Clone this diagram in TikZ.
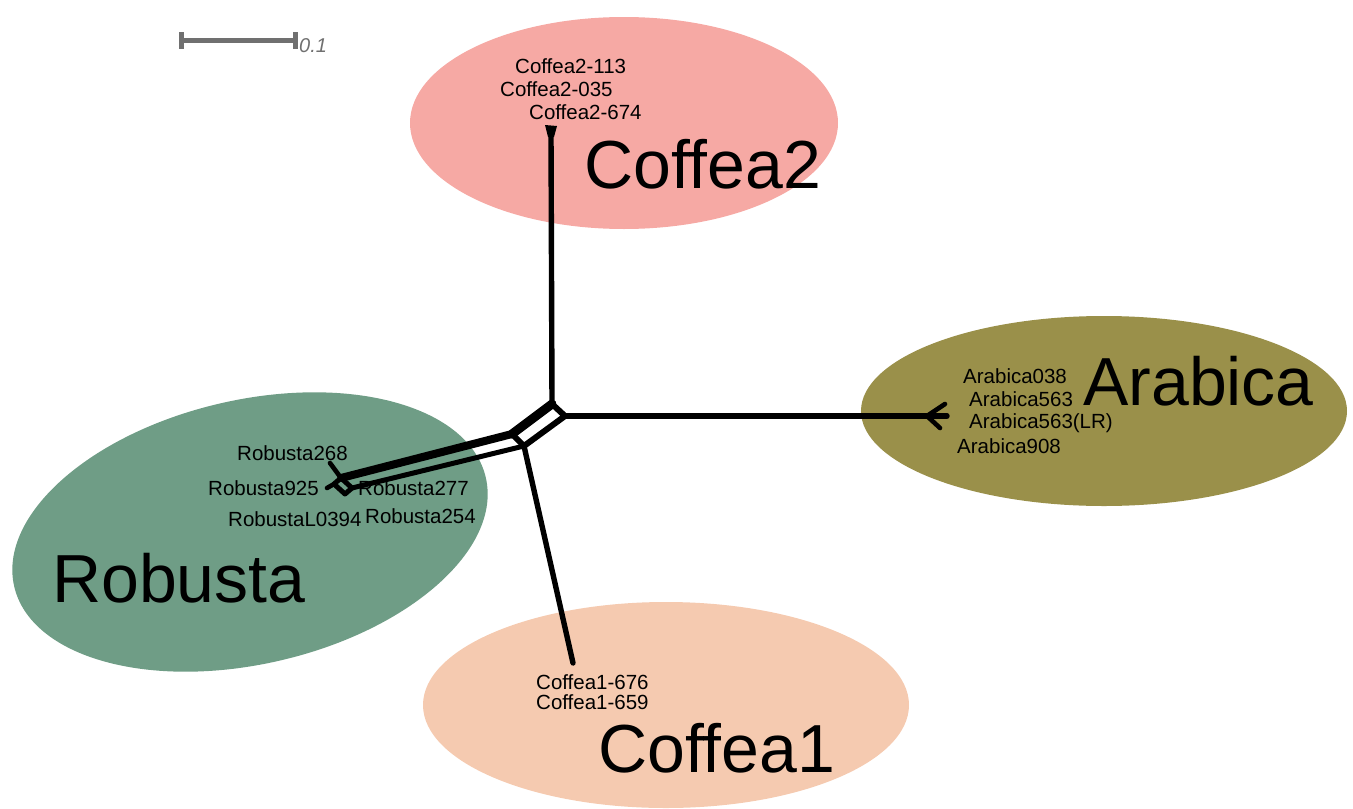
\documentclass[tikz,border=0pt]{standalone}
\usepackage{fontspec}
\setmainfont{Liberation Sans}
\definecolor{cpink}{HTML}{F6A9A4}
\definecolor{colive}{HTML}{9A904A}
\definecolor{cgreen}{HTML}{6F9D86}
\definecolor{cpeach}{HTML}{F5CAB0}
\definecolor{cgray}{HTML}{707070}
\tikzset{
  small/.style={anchor=base west, inner sep=0pt, font=\fontsize{20.5}{24}\selectfont},
  big/.style={anchor=base west, inner sep=0pt, font=\fontsize{68}{80}\selectfont},
  branch/.style={line width=5.4pt, line cap=round, line join=round},
}
\begin{document}
\begin{tikzpicture}[x=1pt,y=-1pt]
\useasboundingbox (0,0) rectangle (1353,809);
% groups
\fill[cpink] (624,123) ellipse [x radius=214, y radius=106];
\fill[colive] (1104,411) ellipse [x radius=243, y radius=95];
\fill[cgreen, rotate around={13:(250,532)}] (250,532) ellipse [x radius=242, y radius=132];
\fill[cpeach] (666,705) ellipse [x radius=243, y radius=103];
% scale bar
\coordinate (s1) at (181,40);
\coordinate (s2) at (295,40);
\draw[cgray, line width=5pt] (s1) -- (s2);
\draw[cgray, line width=5pt] ([yshift=-8.5]s1) -- ([yshift=8.5]s1);
\draw[cgray, line width=5pt] ([yshift=-8.5]s2) -- ([yshift=8.5]s2);
\node[small, text=cgray, font=\fontsize{20}{22}\selectfont\itshape] (scl) at (299,52) {0.1};
% central box
\coordinate (A) at (552,404);
\coordinate (B) at (565,416);
\coordinate (C) at (524,446);
\coordinate (D) at (512,434);
% leaves
\coordinate (c2) at (551,134);
\coordinate (ar) at (947,416);
\coordinate (arj) at (927,416);
\coordinate (ar1) at (945,404);
\coordinate (ar2) at (940,428);
\coordinate (c1) at (573,663);
\coordinate (P1) at (341,478);
\coordinate (P2) at (352,488);
\coordinate (P3) at (345,494);
\coordinate (P4) at (334,484);
\coordinate (r268) at (330,463);
\coordinate (r925) at (327,488);
% branches
\draw[branch] (A) -- (c2);
\fill (545,125) -- (557,126) -- (554,137) -- (548,137) -- cycle;
\draw[branch] (B) -- (ar);
\draw[branch, line width=4.6pt] (arj) -- (ar1);
\draw[branch, line width=4.6pt] (arj) -- (ar2);
\draw[branch] (C) -- (c1);
\draw[branch, line width=9pt] (A) -- (D);
\draw[branch, line width=6pt] (A) -- (B) -- (C) -- (D);
\draw[branch, line width=8pt] (D) -- (P1);
\draw[branch, line width=5pt] (C) -- (P2);
\draw[branch, line width=5pt] (P1) -- (P2) -- (P3) -- (P4) -- cycle;
\draw[branch, line width=4.6pt] (r268) -- (P1);
\draw[branch, line width=4.6pt] (r925) -- (P4);
% leaf labels
\node[small] (l1) at (515,73) {Coffea2-113};
\node[small] (l2) at (500,96) {Coffea2-035};
\node[small] (l3) at (529,119) {Coffea2-674};
\node[small] (l4) at (963,383) {Arabica038};
\node[small] (l5) at (969,406) {Arabica563};
\node[small] (l6) at (969,428) {Arabica563(LR)};
\node[small] (l7) at (957,453) {Arabica908};
\node[small] (l8) at (237,460) {Robusta268};
\node[small] (l9) at (208,495) {Robusta925};
\node[small] (l10) at (358,495) {Robusta277};
\node[small] (l11) at (228,526) {RobustaL0394};
\node[small] (l12) at (365,523) {Robusta254};
\node[small] (l13) at (536,689) {Coffea1-676};
\node[small] (l14) at (536,709) {Coffea1-659};
% group labels
\node[big] (g1) at (584,188) {Coffea2};
\node[big] (g2) at (1083,405) {Arabica};
\node[big] (g3) at (52,602) {Robusta};
\node[big] (g4) at (598,772) {Coffea1};
\end{tikzpicture}
\end{document}
